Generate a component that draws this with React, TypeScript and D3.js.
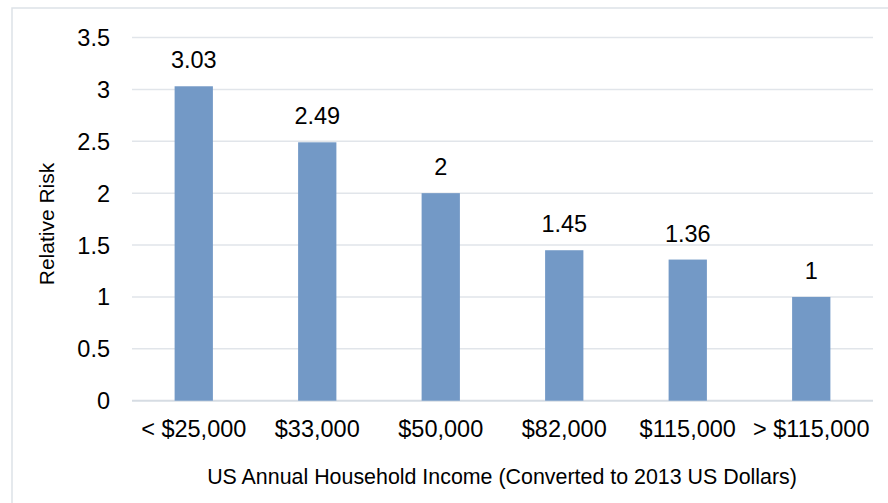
import React from "react";
import * as d3 from "d3";

const categories = ["< $25,000", "$33,000", "$50,000", "$82,000", "$115,000", "> $115,000"];
const values = [3.03, 2.49, 2, 1.45, 1.36, 1];
const valueLabels = ["3.03", "2.49", "2", "1.45", "1.36", "1"];
const yTicks = [0, 0.5, 1, 1.5, 2, 2.5, 3, 3.5];
const yTickLabels = ["0", "0.5", "1", "1.5", "2", "2.5", "3", "3.5"];
const xTitle = "US Annual Household Income (Converted to 2013 US Dollars)";
const yTitle = "Relative Risk";

const W = 888;
const H = 503;
const plot = { left: 132, right: 873, top: 37.5, bottom: 400.7 };
const FONT = "'Liberation Sans', Arial, sans-serif";

export default function App() {
  const x = d3
    .scaleBand<string>()
    .domain(categories)
    .range([plot.left, plot.right])
    .paddingInner(0.69)
    .paddingOuter(0.345);
  const y = d3.scaleLinear().domain([0, 3.5]).range([plot.bottom, plot.top]);
  const bw = x.bandwidth();

  return (
    <svg
      width={W}
      height={H}
      style={{ position: "absolute", left: 0, top: 0, background: "#fff" }}
      fontFamily={FONT}
    >
      <rect x={12} y={8} width={W + 20} height={H + 20} fill="#fff" stroke="#DDE2E7" strokeWidth={1.5} />
      {yTicks.map((t, i) => (
        <g key={i}>
          <line
            x1={plot.left}
            x2={plot.right}
            y1={y(t)}
            y2={y(t)}
            stroke={t === 0 ? "#D6DCE3" : "#E1E5EA"}
            strokeWidth={t === 0 ? 2 : 1.5}
          />
          <text x={110} y={y(t)} dy="0.36em" textAnchor="end" fontSize={23.5} fill="#000">
            {yTickLabels[i]}
          </text>
        </g>
      ))}
      {categories.map((c, i) => (
        <g key={c}>
          <rect x={x(c)} y={y(values[i])} width={bw} height={y(0) - y(values[i])} fill="#7399C6" />
          <text x={(x(c) as number) + bw / 2} y={y(values[i]) - 18} textAnchor="middle" fontSize={23.5} fill="#000">
            {valueLabels[i]}
          </text>
          <text x={(x(c) as number) + bw / 2} y={437} textAnchor="middle" fontSize={23.5} fill="#000">
            {c}
          </text>
        </g>
      ))}
      <text x={(plot.left + plot.right) / 2 - 0.5} y={484} textAnchor="middle" fontSize={21.4} fill="#000">
        {xTitle}
      </text>
      <text
        transform={`translate(${54},${224}) rotate(-90)`}
        textAnchor="middle"
        fontSize={21}
        fill="#000"
      >
        {yTitle}
      </text>
    </svg>
  );
}
